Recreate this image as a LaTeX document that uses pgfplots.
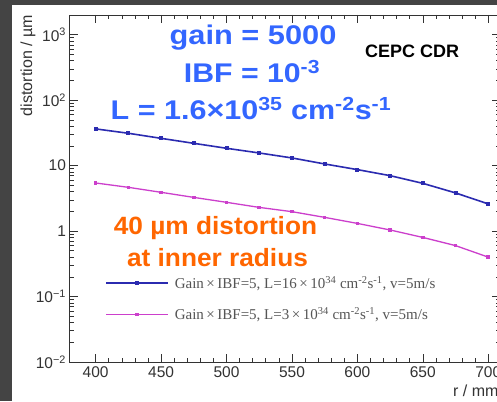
\documentclass[border=0pt]{standalone}
\usepackage{fontspec}
\setmainfont{Liberation Sans}
\newfontfamily\seriffont{Liberation Serif}
\usepackage{pgfplots}
\pgfplotsset{compat=1.18}
\definecolor{bgdark}{HTML}{444444}
\definecolor{lineblue}{HTML}{2B2BB0}
\definecolor{linemag}{HTML}{CC3FCC}
\definecolor{txtblue}{HTML}{3366FF}
\definecolor{txtorange}{HTML}{FF6600}
\definecolor{axgray}{HTML}{333333}
\definecolor{leggray}{HTML}{555555}
\begin{document}
\begin{tikzpicture}[x=1pt,y=1pt]
\useasboundingbox (0,0) rectangle (497,401);
\fill[bgdark] (0,0) rectangle (497,401);
\fill[white] (12,0) rectangle (497,396);
\clip (0,0) rectangle (497,401);
\begin{axis}[
  at={(69.5pt,39pt)}, anchor=south west,
  scale only axis, width=430.5pt, height=347pt,
  xmin=380, xmax=709, ymode=log, ymin=0.01, ymax=2000,
  xtick={400,450,500,550,600,650,700}, minor x tick num=4,
  ytick={0.01,0.1,1,10,100,1000},
  minor ytick={0.02,0.03,0.04,0.05,0.06,0.07,0.08,0.09,0.2,0.3,0.4,0.5,0.6,0.7,0.8,0.9,2,3,4,5,6,7,8,9,20,30,40,50,60,70,80,90,200,300,400,500,600,700,800,900,2000},
  yticklabels={10\textsuperscript{−2},10\textsuperscript{−1},1,10,10\textsuperscript{2},10\textsuperscript{3}},
  xticklabel style={/pgf/number format/assume math mode=true, yshift=-1pt},
  tick align=inside, major tick length=8pt, minor tick length=4pt,
  axis line style={axgray, line width=0.8pt},
  tick style={axgray, line width=0.6pt},
  ticklabel style={font=\fontsize{15.5}{18}\selectfont, text=axgray},
  legend style={at={(axis description cs:0.0825,0.254)}, anchor=north west,
    draw=none, fill=none, inner sep=0pt, row sep=14pt,
    font=\seriffont\fontsize{15}{17}\selectfont, text=leggray},
  legend cell align=left,
  legend image code/.code={\draw[mark repeat=2,mark phase=2] plot coordinates {(0pt,0pt) (31pt,0pt) (62pt,0pt)};},
]
\addplot[lineblue, line width=1.6pt, mark=square*, mark size=1.2pt] coordinates {
(400,36.4) (425,31.2) (450,26.1) (475,21.9) (500,18.4) (525,15.6) (550,13.1)
(575,10.6) (600,8.69) (625,7.03) (650,5.36) (675,3.83) (700,2.60)};
\addlegendentry{\hspace{4pt}Gain\,×\,IBF=5, L=16\,×\,10\textsuperscript{34} cm\textsuperscript{-2}s\textsuperscript{-1}, v=5m/s}
\addplot[linemag, line width=1.3pt, mark=square*, mark size=1.1pt] coordinates {
(400,5.43) (425,4.66) (450,3.91) (475,3.27) (500,2.75) (525,2.30) (550,1.98)
(575,1.62) (600,1.31) (625,1.04) (650,0.80) (675,0.60) (700,0.40)};
\addlegendentry{\hspace{4pt}Gain\,×\,IBF=5, L=3\,×\,10\textsuperscript{34} cm\textsuperscript{-2}s\textsuperscript{-1}, v=5m/s}
\end{axis}
\node[rotate=90, anchor=base east, inner sep=0pt, text=axgray, font=\fontsize{16}{18}\selectfont] at (32,386) {distortion / µm};
\node[anchor=base west, inner sep=0pt, text=axgray, font=\fontsize{16}{18}\selectfont] at (453,5) {r / mm};
\node[anchor=base, inner sep=0pt, text=txtblue, font=\fontsize{27}{30}\bfseries\selectfont, xscale=1.14] at (253,356) {gain = 5000};
\node[anchor=base, inner sep=0pt, text=txtblue, font=\fontsize{27}{30}\bfseries\selectfont, xscale=1.12] at (252,318) {IBF = 10\textsuperscript{-3}};
\node[anchor=base, inner sep=0pt, text=txtblue, font=\fontsize{27}{30}\bfseries\selectfont, xscale=1.13] at (251,281) {L = 1.6×10\textsuperscript{35} cm\textsuperscript{-2}s\textsuperscript{-1}};
\node[anchor=base west, inner sep=0pt, font=\fontsize{18}{20}\bfseries\selectfont] at (365,343) {CEPC CDR};
\node[anchor=base, inner sep=0pt, text=txtorange, font=\fontsize{25}{28}\bfseries\selectfont, xscale=1.05] at (215.5,166) {40 µm distortion};
\node[anchor=base, inner sep=0pt, text=txtorange, font=\fontsize{25}{28}\bfseries\selectfont, xscale=1.05] at (217.5,134) {at inner radius};
\end{tikzpicture}
\end{document}
